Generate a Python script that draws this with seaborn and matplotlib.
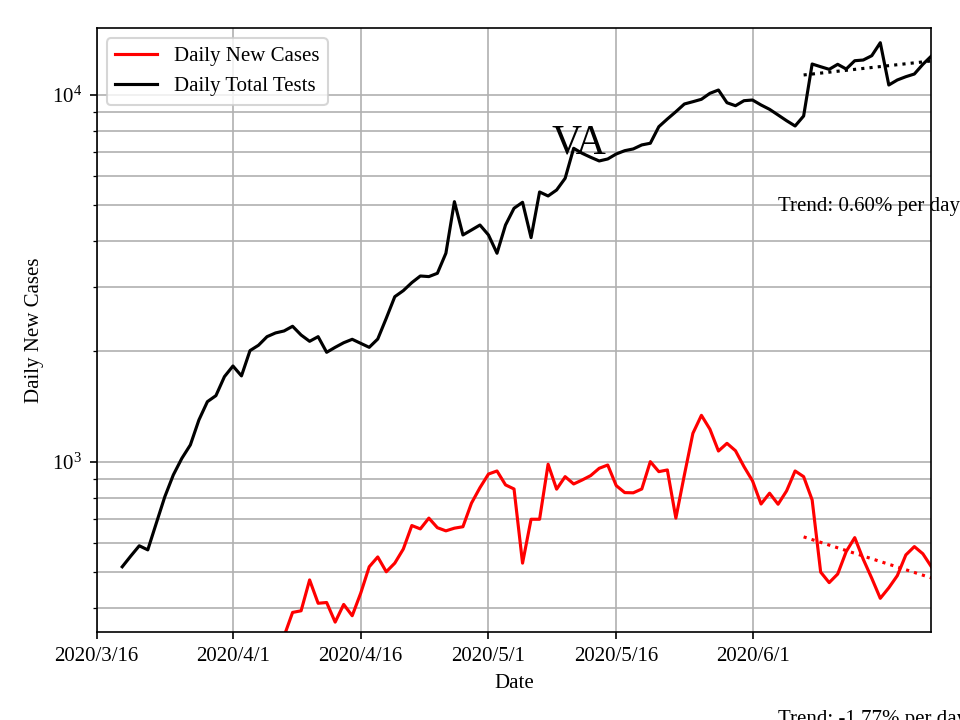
import pandas as pd
import numpy as np
import matplotlib
matplotlib.use("Agg")
import matplotlib.pyplot as plt
import seaborn as sns

# %% data
tests_start = "2020-03-19"
daily_tests = [518, 554, 591, 576, 681, 804, 922, 1023, 1113, 1301,
               1460, 1516, 1708, 1826, 1716, 2011, 2080, 2195, 2247, 2275,
               2343, 2218, 2132, 2195, 1990, 2053, 2113, 2159, 2105, 2053,
               2163, 2464, 2821, 2930, 3081, 3212, 3200, 3267, 3705, 5121,
               4155, 4286, 4423, 4155, 3705, 4423, 4913, 5101, 4086, 5442,
               5307, 5510, 5929, 7158, 6936, 6765, 6611, 6694, 6907, 7052,
               7129, 7311, 7388, 8197, 8602, 9005, 9452, 9589, 9735, 10107,
               10318, 9528, 9350, 9650, 9691, 9394, 9141, 8822, 8511, 8233,
               8766, 12147, 11942, 11749, 12124, 11771, 12401, 12455, 12797, 13884,
               10647, 10989, 11217, 11408, 12124, 12773]

cases_start = "2020-04-07"
daily_cases = [335, 389, 393, 477, 412, 414, 366, 409, 381, 439,
               518, 551, 502, 530, 579, 671, 657, 703, 662, 649,
               660, 666, 772, 851, 927, 945, 866, 844, 530, 698,
               698, 986, 843, 912, 871, 893, 918, 961, 981, 862,
               825, 824, 844, 1002, 941, 951, 703, 922, 1197, 1340,
               1228, 1071, 1124, 1073, 971, 888, 768, 822, 767, 834,
               945, 912, 788, 501, 469, 495, 570, 622, 543, 482,
               425, 454, 490, 558, 588, 562, 518]

trend_dates = ["2020-06-07", "2020-06-22"]
tests_trend = [11340, 12380]
cases_trend = [625, 483]

tick_dates = ["2020-03-16", "2020-04-01", "2020-04-16", "2020-05-01", "2020-05-16", "2020-06-01"]
tick_labels = ["2020/3/16", "2020/4/1", "2020/4/16", "2020/5/1", "2020/5/16", "2020/6/1"]

# %%
plt.rcParams['font.family'] = ['Liberation Serif', 'DejaVu Serif']
plt.rcParams['font.size'] = 10

tests = pd.DataFrame({'date': pd.date_range(tests_start, periods=len(daily_tests)), 'n': daily_tests})
cases = pd.DataFrame({'date': pd.date_range(cases_start, periods=len(daily_cases)), 'n': daily_cases})
trend = pd.DataFrame({'date': pd.to_datetime(trend_dates), 'tests': tests_trend, 'cases': cases_trend})

fig, ax = plt.subplots(figsize=(6.4, 4.8), dpi=150)
fig.subplots_adjust(left=0.1007, right=0.9702, bottom=0.1222, top=0.9611)

sns.lineplot(data=cases, x='date', y='n', color='red', lw=1.5, label='Daily New Cases', ax=ax)
sns.lineplot(data=tests, x='date', y='n', color='black', lw=1.5, label='Daily Total Tests', ax=ax)
sns.lineplot(data=trend, x='date', y='tests', color='black', ls=':', lw=1.5, label='_nolegend_', ax=ax)
sns.lineplot(data=trend, x='date', y='cases', color='red', ls=':', lw=1.5, label='_nolegend_', ax=ax)

ax.set_yscale('log')
ax.set_xlim(pd.Timestamp("2020-03-16"), pd.Timestamp("2020-06-22"))
ax.set_ylim(344, 15226)
ax.set_xticks(pd.to_datetime(tick_dates))
ax.set_xticklabels(tick_labels)
ax.grid(True, which='both')
ax.set_xlabel("Date")
ax.set_ylabel("Daily New Cases")

ax.text(0.578, 0.7925, "VA", transform=ax.transAxes, fontsize=20, ha='center', va='baseline')
ax.text(pd.Timestamp("2020-06-04"), 4830, "Trend: 0.60% per day", ha='left', va='baseline')
ax.text(pd.Timestamp("2020-06-04"), 193, "Trend: -1.77% per day", ha='left', va='baseline')

ax.legend(loc='upper left')
plt.savefig("out.png")
